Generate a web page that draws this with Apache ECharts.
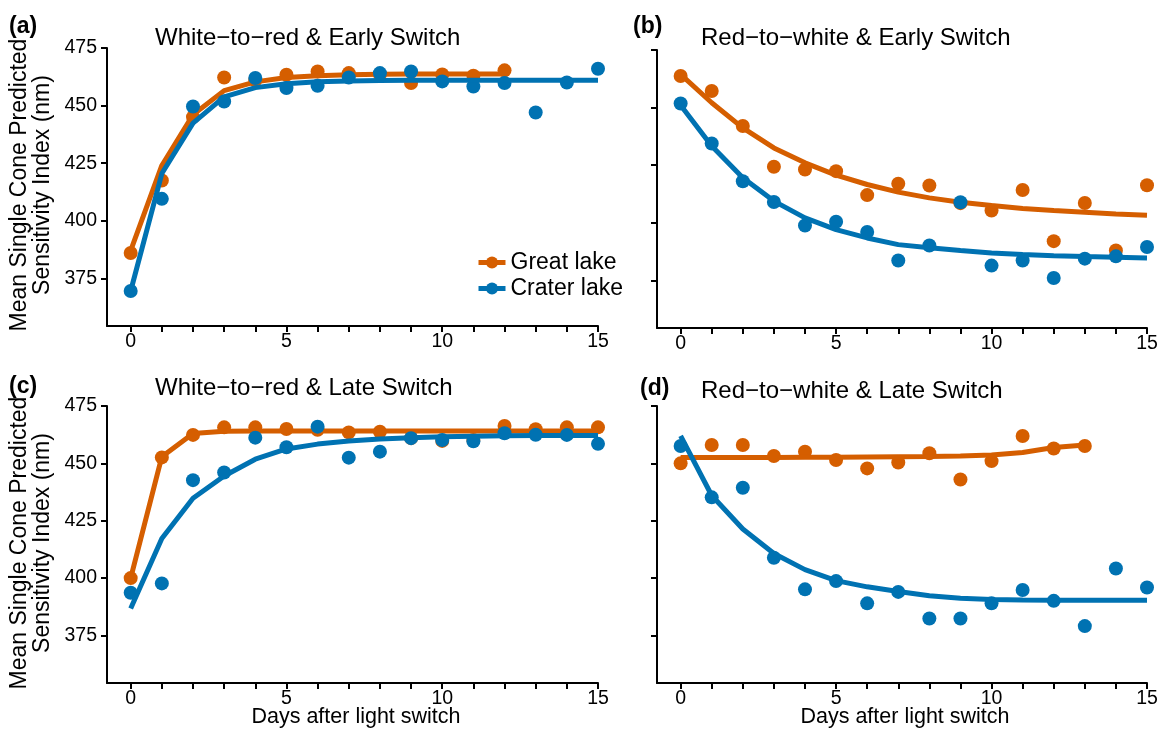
<!DOCTYPE html>
<html>
<head>
<meta charset="utf-8">
<title>Mean single cone predicted sensitivity index</title>
<script src="https://cdn.jsdelivr.net/npm/echarts@6/dist/echarts.min.js"></script>
<style>
    html, body { margin: 0; padding: 0; background: #fff; }
    #main { width: 1162px; height: 729px; }
</style>
</head>
<body>
<div id="main"></div>
<script>
// days after light switch
var days = [0, 1, 2, 3, 4, 5, 6, 7, 8, 9, 10, 11, 12, 13, 14, 15];
var xTicks = [0, 1, 2, 3, 4, 5, 6, 7, 8, 9, 10, 11, 12, 13, 14, 15];
var xLabels = [0, 5, 10, 15];
var yTicks = [375, 400, 425, 450, 475];

var lakes = ['Great lake', 'Crater lake'];
var panelTags = ['(a)', '(b)', '(c)', '(d)'];
var panelTitles = [
    'White\u2212to\u2212red & Early Switch',
    'Red\u2212to\u2212white & Early Switch',
    'White\u2212to\u2212red & Late Switch',
    'Red\u2212to\u2212white & Late Switch'
];

// (a) white-to-red, early switch
var aGreatObs = [386, 417.5, 445, 462.2, 461, 463.4, 464.8, 464.1, 463.5, 459.8, 463.5, 463, 465.3];
var aCraterObs = [369.5, 409.5, 449.6, 451.8, 462, 457.6, 458.6, 462.2, 464.1, 464.8, 460.5, 458.3, 459.8, 447, 460, 466];
var aGreatFit = [387, 424, 446, 456.5, 460.3, 462.2, 463, 463.4, 463.6, 463.7, 463.7, 463.7, 463.7];
var aCraterFit = [369.5, 420.5, 442.4, 453.8, 457.8, 459.5, 460.3, 460.7, 460.9, 461, 461, 461, 461, 461, 461, 461];

// (b) red-to-white, early switch
var bGreatObs = [463.7, 457.2, 442, 424.3, 423.1, 422.4, 412, 416.9, 416.2, 408.5, 405.3, 414.2, 392, 408.6, 388, 416.3];
var bCraterObs = [451.8, 434.4, 418, 409, 398.8, 400.4, 396, 383.6, 390.1, 408.9, 381.4, 383.6, 376, 384.4, 385.4, 389.5];
var bGreatFit = [464.4, 452.1, 441.2, 432.5, 426, 420.7, 416.6, 413.3, 410.8, 408.9, 407.5, 406.2, 405.3, 404.6, 403.8, 403.3];
var bCraterFit = [451, 433.3, 419.5, 409.4, 402.1, 397, 393.4, 390.5, 389.1, 387.9, 386.9, 386.2, 385.7, 385.3, 385, 384.7];

// (c) white-to-red, late switch
var cGreatObs = [400, 452.6, 462.4, 465.7, 465.7, 465, 464.6, 463.5, 463.8, 461, 459.8, 460.2, 466.3, 464.9, 465.7, 465.7];
var cCraterObs = [393.6, 397.7, 442.7, 446, 461.2, 457, 466, 452.5, 455.1, 461, 460.2, 459.6, 463.1, 462.5, 462.4, 458.5];
var cGreatFit = [400, 452.9, 463, 464, 464.1, 464.1, 464.1, 464.1, 464.1, 464.1, 464.1, 464.1, 464.1, 464.1, 464.1, 464.1];
var cCraterFit = [386.8, 417.3, 434.8, 444.5, 451.8, 456.3, 458.4, 459.7, 460.6, 461.2, 461.6, 461.8, 462, 462.1, 462.2, 462.2];

// (d) red-to-white, late switch
var dGreatObs = [450, 458, 458, 453.2, 455.1, 451.5, 447.8, 450.4, 454.4, 443, 451, 461.9, 456.5, 457.6];
var dCraterObs = [457.6, 435.2, 439.4, 408.9, 395.1, 398.7, 389, 394, 382.4, 382.4, 389, 394.8, 390.1, 379.1, 404.2, 395.9];
var dGreatFit = [452.6, 452.6, 452.6, 452.6, 452.7, 452.7, 452.8, 452.9, 453, 453.2, 453.6, 454.7, 456.9, 458];
var dCraterFit = [462, 436, 421.4, 410.7, 403.7, 398.9, 396.2, 394.2, 392.3, 391.2, 390.7, 390.5, 390.4, 390.4, 390.4, 390.4];

var obsGreat = [aGreatObs, bGreatObs, cGreatObs, dGreatObs];
var obsCrater = [aCraterObs, bCraterObs, cCraterObs, dCraterObs];
var fitGreat = [aGreatFit, bGreatFit, cGreatFit, dGreatFit];
var fitCrater = [aCraterFit, bCraterFit, cCraterFit, dCraterFit];

var orange = '#D55E00';
var blue = '#0072B2';
var font = '"Liberation Sans", Arial, Helvetica, sans-serif';

function pairs(vals) {
    return vals.map(function (v, i) { return [days[i], v]; });
}

var chart = echarts.init(document.getElementById('main'));

var grids = [
    { left: 107, top: 48, width: 491, height: 278 },
    { left: 657, top: 50, width: 490, height: 278 },
    { left: 107, top: 406, width: 491, height: 277 },
    { left: 657, top: 406, width: 490, height: 277 }
];

var xAxes = [], yAxes = [], series = [], graphics = [];

for (var i = 0; i < 4; i++) {
    xAxes.push({
        type: 'value', gridIndex: i, min: -0.76, max: 15,
        axisLine: { show: true, onZero: false, lineStyle: { color: '#000', width: 2 } },
        axisTick: { show: true, customValues: xTicks, length: 6, lineStyle: { color: '#000', width: 2 } },
        axisLabel: { customValues: xLabels, fontSize: 19.5, color: '#000', margin: 6, fontFamily: font },
        splitLine: { show: false }
    });
    yAxes.push({
        type: 'value', gridIndex: i, min: 354.3, max: 475,
        axisLine: { show: true, onZero: false, lineStyle: { color: '#000', width: 2 } },
        axisTick: { show: true, customValues: yTicks, length: 6, lineStyle: { color: '#000', width: 2 } },
        axisLabel: { show: i % 2 === 0, customValues: yTicks, fontSize: 19.5, color: '#000', margin: 10, fontFamily: font },
        splitLine: { show: false }
    });

    // fitted curves first so the legend takes its icon from them
    series.push({
        name: lakes[0], type: 'line', xAxisIndex: i, yAxisIndex: i, z: 3,
        data: pairs(fitGreat[i]), showSymbol: false, symbol: 'circle', silent: true,
        lineStyle: { color: orange, width: 5 }, itemStyle: { color: orange }
    });
    series.push({
        name: lakes[1], type: 'line', xAxisIndex: i, yAxisIndex: i, z: 5,
        data: pairs(fitCrater[i]), showSymbol: false, symbol: 'circle', silent: true,
        lineStyle: { color: blue, width: 5 }, itemStyle: { color: blue }
    });
    series.push({
        name: lakes[0], type: 'scatter', xAxisIndex: i, yAxisIndex: i, z: 2,
        data: pairs(obsGreat[i]), symbolSize: 14, silent: true,
        itemStyle: { color: orange, opacity: 1 }
    });
    series.push({
        name: lakes[1], type: 'scatter', xAxisIndex: i, yAxisIndex: i, z: 4,
        data: pairs(obsCrater[i]), symbolSize: 14, silent: true,
        itemStyle: { color: blue, opacity: 1 }
    });
}

// panel tags and titles
var tagPos = [[9, 27], [633, 27], [9, 387], [640, 389]];
var titlePos = [[155, 38], [701, 38], [155, 388], [701, 391]];
for (var k = 0; k < 4; k++) {
    graphics.push({
        type: 'text', x: tagPos[k][0], y: tagPos[k][1], silent: true,
        style: { text: panelTags[k], font: 'bold 23px ' + font, fill: '#000',
                 align: 'left', verticalAlign: 'middle', textAlign: 'left', textVerticalAlign: 'middle' }
    });
    graphics.push({
        type: 'text', x: titlePos[k][0], y: titlePos[k][1], silent: true,
        style: { text: panelTitles[k], font: '24px ' + font, fill: '#000',
                 align: 'left', verticalAlign: 'middle', textAlign: 'left', textVerticalAlign: 'middle' }
    });
}

// axis titles
var yTitle = 'Mean Single Cone Predicted\nSensitivity Index (nm)';
[185, 543].forEach(function (cy) {
    graphics.push({
        type: 'text', x: 31, y: cy, rotation: Math.PI / 2, silent: true,
        style: { text: yTitle, font: '23px ' + font, fill: '#000', lineHeight: 23,
                 align: 'center', verticalAlign: 'middle', textAlign: 'center', textVerticalAlign: 'middle' }
    });
});
[[356, 717], [905, 717]].forEach(function (p) {
    graphics.push({
        type: 'text', x: p[0], y: p[1], silent: true,
        style: { text: 'Days after light switch', font: '21.5px ' + font, fill: '#000',
                 align: 'center', verticalAlign: 'middle', textAlign: 'center', textVerticalAlign: 'middle' }
    });
});

var option = {
    animation: false,
    backgroundColor: '#fff',
    textStyle: { fontFamily: font },
    legend: {
        data: lakes,
        orient: 'vertical',
        left: 476, top: 251,
        padding: 0,
        itemWidth: 27, itemHeight: 15, itemGap: 3,
        selectedMode: false,
        lineStyle: { width: 5 },
        textStyle: { fontSize: 23, color: '#000', fontFamily: font }
    },
    grid: grids,
    xAxis: xAxes,
    yAxis: yAxes,
    series: series,
    graphic: graphics
};

chart.setOption(option);
</script>
</body>
</html>
